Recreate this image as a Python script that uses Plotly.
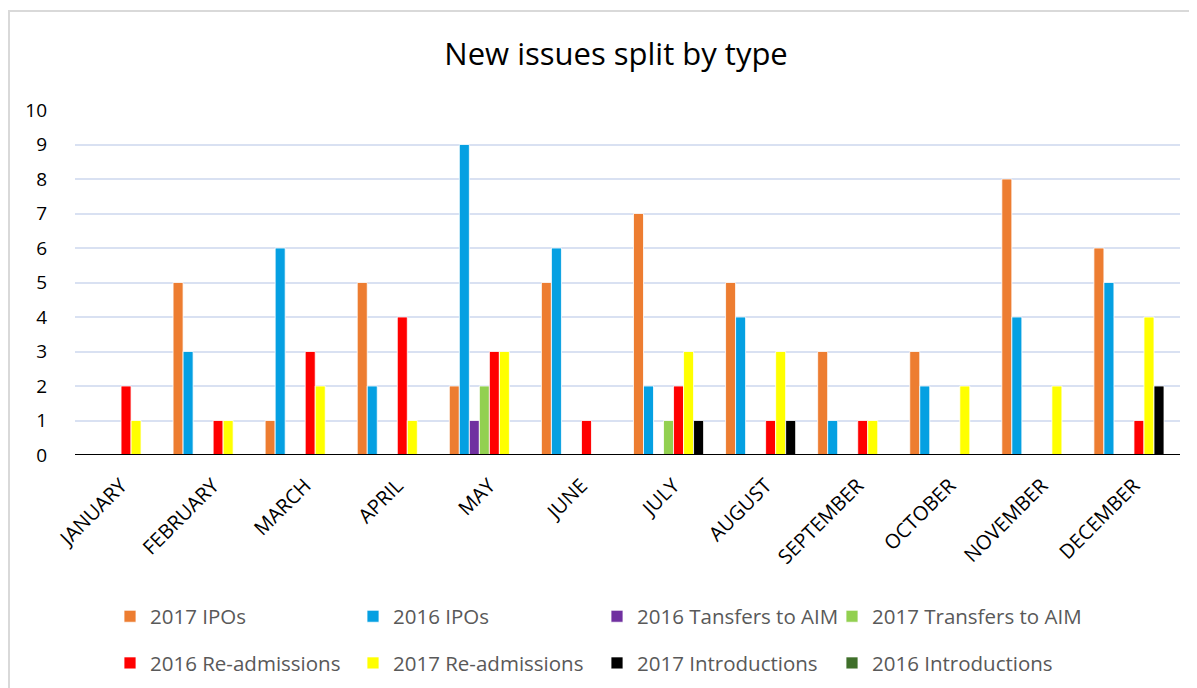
import plotly.graph_objects as go

months = ["JANUARY", "FEBRUARY", "MARCH", "APRIL", "MAY", "JUNE", "JULY",
          "AUGUST", "SEPTEMBER", "OCTOBER", "NOVEMBER", "DECEMBER"]

ipo_2017 = [0, 5, 1, 5, 2, 5, 7, 5, 3, 3, 8, 6]
ipo_2016 = [0, 3, 6, 2, 9, 6, 2, 4, 1, 2, 4, 5]
transfers_2016 = [0, 0, 0, 0, 1, 0, 0, 0, 0, 0, 0, 0]
transfers_2017 = [0, 0, 0, 0, 2, 0, 1, 0, 0, 0, 0, 0]
readm_2016 = [2, 1, 3, 4, 3, 1, 2, 1, 1, 0, 0, 1]
readm_2017 = [1, 1, 2, 1, 3, 0, 3, 3, 1, 2, 2, 4]
intro_2017 = [0, 0, 0, 0, 0, 0, 1, 1, 0, 0, 0, 2]
intro_2016 = [0, 0, 0, 0, 0, 0, 0, 0, 0, 0, 0, 0]

# (name, values, colour, legend column)
series = [
    ("2017 IPOs", ipo_2017, "#ED7D31", "legend"),
    ("2016 IPOs", ipo_2016, "#05A0E2", "legend2"),
    ("2016 Tansfers to AIM", transfers_2016, "#7030A0", "legend3"),
    ("2017 Transfers to AIM", transfers_2017, "#92D050", "legend4"),
    ("2016 Re-admissions", readm_2016, "#FF0000", "legend"),
    ("2017 Re-admissions", readm_2017, "#FFFF00", "legend2"),
    ("2017 Introductions", intro_2017, "#000000", "legend3"),
    ("2016 Introductions", intro_2016, "#3F6F2A", "legend4"),
]

FONT = "Open Sans"

fig = go.Figure()
for i, (name, vals, color, lg) in enumerate(series):
    fig.add_trace(go.Bar(
        name=name, x=months, y=vals,
        marker=dict(color=color, line=dict(color="white", width=0.8)),
        legend=lg, legendgroup="g%d" % i,
    ))

legend_common = dict(
    orientation="v", xanchor="left", yanchor="middle", y=-0.536,
    font=dict(family=FONT, size=20.5, color="#595959"),
    bgcolor="rgba(0,0,0,0)", itemwidth=30,
    traceorder="grouped", tracegroupgap=17,
)

L, R, T, B = 67, 25, 102, 241
PW = 1197 - L - R
PH = 688 - T - B

fig.update_layout(
    width=1197, height=688,
    margin=dict(l=L, r=R, t=T, b=B),
    paper_bgcolor="white", plot_bgcolor="white",
    barmode="group", bargap=0.13, bargroupgap=0.0,
    title=dict(text="New issues split by type", x=0.508, xanchor="center",
               y=1 - 46 / 688, yanchor="middle",
               font=dict(family=FONT, size=31, color="#000000")),
    font=dict(family=FONT, color="#000000"),
    legend=dict(x=(102 - L) / PW, **legend_common),
    legend2=dict(x=(345 - L) / PW, **legend_common),
    legend3=dict(x=(589 - L) / PW, **legend_common),
    legend4=dict(x=(824 - L) / PW, **legend_common),
    xaxis=dict(
        tickangle=-45, tickfont=dict(family=FONT, size=20, color="#000000"),
        showgrid=False, showline=False, ticks="", ticklabelstandoff=14,
    ),
    yaxis=dict(
        range=[0, 10], dtick=1, tick0=0,
        tickfont=dict(family=FONT, size=19, color="#000000"),
        showgrid=True, gridcolor="#D9E1F2", gridwidth=1.5,
        zeroline=False, showline=False, ticks="", ticklabelstandoff=27,
    ),
    shapes=[
        dict(type="rect", xref="paper", yref="paper",
             x0=(1 - L) / PW, x1=(1205 - L) / PW,
             y0=(PH + T - 700) / PH, y1=(PH + T - 3) / PH,
             line=dict(color="#D9D9D9", width=2), fillcolor="rgba(0,0,0,0)",
             layer="below"),
        dict(type="line", xref="paper", yref="y", x0=0, x1=1, y0=0, y1=0,
             line=dict(color="#000000", width=2), layer="above"),
    ],
)

fig.write_html("out.html")
